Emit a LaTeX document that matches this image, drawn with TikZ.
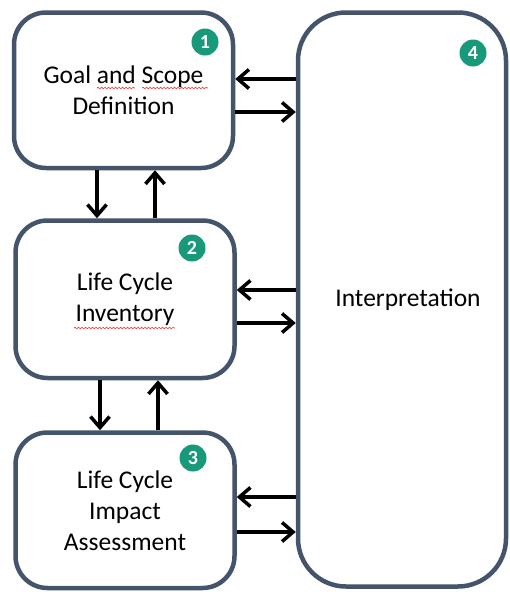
\documentclass[tikz,border=0pt]{standalone}
\usepackage{fontspec}
\setmainfont{Carlito}
\usetikzlibrary{arrows.meta,decorations.pathmorphing}
\definecolor{boxline}{RGB}{68,84,106}
\definecolor{badge}{RGB}{24,154,122}
\definecolor{wavy}{RGB}{232,70,70}

\begin{document}
\begin{tikzpicture}[x=1pt,y=-1pt,
  stage/.style={draw=boxline, line width=4.5pt, fill=white, align=center,
    inner sep=0pt, font=\fontsize{25.5}{31}\selectfont},
  phase/.style={stage, rounded corners=32pt, minimum width=219pt},
  badgenum/.style={circle, fill=badge, text=white, inner sep=0pt,
    minimum size=27pt, font=\bfseries\fontsize{20}{20}\selectfont},
  flow/.style={line width=3.3pt, -{Straight Barb[length=11pt,width=19pt,line width=3.5pt]}},
  spell/.style={draw=wavy, line width=0.7pt, decorate,
    decoration={snake, amplitude=0.8pt, segment length=3.5pt}}
]
\useasboundingbox (0,0) rectangle (509,592);

% the three phases on the left
\node[phase, minimum height=155.5pt] (goal) at (123.5,90.25) {Goal and Scope\\Definition};
\node[phase, minimum height=157.5pt] (inv)  at (125,299.25) {Life Cycle\\Inventory};
\node[phase, minimum height=155.5pt] (lcia) at (125,510.25) {Life Cycle\\Impact\\Assessment};

% interpretation column on the right
\node[stage, rounded corners=48pt, minimum width=208pt, minimum height=574pt] (interp) at (402,299.5) {};
\node[font=\fontsize{25.5}{31}\selectfont] (interplabel) at (408,300) {Interpretation};

% numbered badges
\node[badgenum] (n1) at (205,42)  {1};
\node[badgenum] (n2) at (192,248) {2};
\node[badgenum] (n3) at (193,458) {3};
\node[badgenum] (n4) at (473,53)  {4};

% spell-check underlines
\draw[spell] (97,88) -- (135,88);
\draw[spell] (142,88) -- (208,88);
\draw[spell] (74,328) -- (175,328);

% vertical exchanges between phases
\draw[flow] (goal.south -| 97,0) -- (inv.north -| 97,0);
\draw[flow] (inv.north -| 155,0) -- (goal.south -| 155,0);
\draw[flow] (inv.south -| 100,0) -- (lcia.north -| 100,0);
\draw[flow] (lcia.north -| 158,0) -- (inv.south -| 158,0);

% exchanges with interpretation
\draw[flow] (interp.west |- 0,79)  -- (goal.east |- 0,79);
\draw[flow] (goal.east |- 0,112)   -- (interp.west |- 0,112);
\draw[flow] (interp.west |- 0,290) -- (inv.east |- 0,290);
\draw[flow] (inv.east |- 0,323)    -- (interp.west |- 0,323);
\draw[flow] (interp.west |- 0,497) -- (lcia.east |- 0,497);
\draw[flow] (lcia.east |- 0,532)   -- (interp.west |- 0,532);
\end{tikzpicture}
\end{document}
